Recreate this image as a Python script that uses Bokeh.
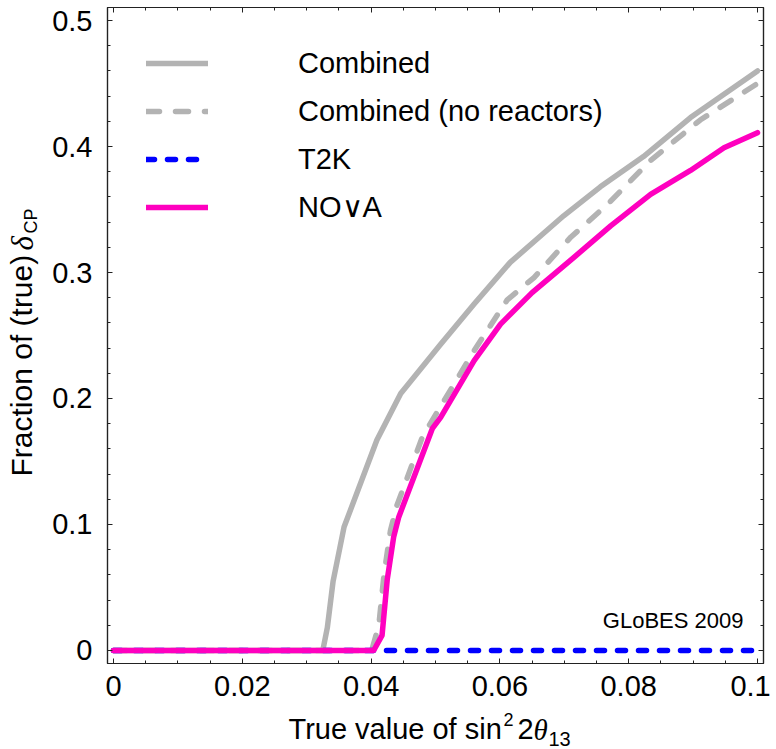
import numpy as np
from bokeh.plotting import figure
from bokeh.models import Range1d, LinearAxis, FixedTicker, Label, Legend, LegendItem
from bokeh.layouts import column, row
from bokeh.embed import file_html
from bokeh.resources import INLINE

# ---------------- data ----------------
combined_x = [0.0, 0.0325, 0.0332, 0.0341, 0.0358, 0.0409, 0.0446, 0.0508, 0.0560,
              0.0616, 0.0699, 0.0756, 0.0823, 0.0896, 0.1]
combined_y = [0.0, 0.0, 0.018, 0.055, 0.098, 0.167, 0.204, 0.243, 0.275,
              0.308, 0.345, 0.368, 0.392, 0.423, 0.460]

noreac_x = [0.0, 0.0401, 0.0412, 0.0420, 0.0430, 0.0440, 0.0480, 0.0513, 0.0560,
            0.0611, 0.0653, 0.0710, 0.0767, 0.0834, 0.0911, 0.1]
noreac_y = [0.0, 0.0, 0.020, 0.060, 0.095, 0.115, 0.170, 0.198, 0.238,
            0.278, 0.296, 0.328, 0.354, 0.389, 0.421, 0.450]

t2k_x = [0.0, 0.1]
t2k_y = [0.0, 0.0]

nova_x = [0.0, 0.0404, 0.0417, 0.0425, 0.0435, 0.0443, 0.0495, 0.0508, 0.0560,
          0.0601, 0.0650, 0.0715, 0.0772, 0.0834, 0.0896, 0.0948, 0.1]
nova_y = [0.0, 0.0, 0.012, 0.056, 0.090, 0.106, 0.176, 0.185, 0.230,
          0.259, 0.284, 0.312, 0.337, 0.362, 0.381, 0.399, 0.411]

series_names = ["Combined", "Combined (no reactors)", "T2K", "NO\u2228A"]

x_ticks = [0.0, 0.02, 0.04, 0.06, 0.08, 0.1]
x_tick_labels = ["0", "0.02", "0.04", "0.06", "0.08", "0.1\u2009"]
x_minor = [0.005, 0.01, 0.015, 0.025, 0.03, 0.035, 0.045, 0.05, 0.055,
           0.065, 0.07, 0.075, 0.085, 0.09, 0.095]
y_ticks = [0.0, 0.1, 0.2, 0.3, 0.4, 0.5]
y_tick_labels = ["0", "0.1", "0.2", "0.3", "0.4", "0.5"]
y_minor = [0.02, 0.04, 0.06, 0.08, 0.12, 0.14, 0.16, 0.18, 0.22, 0.24, 0.26, 0.28,
           0.32, 0.34, 0.36, 0.38, 0.42, 0.44, 0.46, 0.48]

# ---------------- styling ----------------
GRAY = "#b3b3b3"
BLUE = "#0000ff"
PINK = "#ff00bf"
FONT = "Liberation Sans"
SERIF = "Liberation Serif"
AXC = "#222222"
MID_SANS = 0.3465    # baseline -> middle of text box, in em (Liberation Sans)
MID_SERIF = 0.3375   # same for Liberation Serif

# page layout (pixels): left strip for y title | column(main plot, bottom strip for x title)
W_TOTAL, H_TOTAL = 776, 749
W_LEFT = 48
H_MAIN = 708
FRAME_L, FRAME_R, FRAME_T, FRAME_B = 107, 763, 7, 663
B_LEFT = FRAME_L - W_LEFT
B_RIGHT = W_TOTAL - FRAME_R

X0, X1 = -0.000932, 0.100932
Y0, Y1 = -0.01032, 0.51032

p = figure(width=W_TOTAL - W_LEFT, height=H_MAIN,
           x_range=Range1d(X0, X1), y_range=Range1d(Y0, Y1),
           output_backend="svg", toolbar_location=None,
           min_border_left=B_LEFT, min_border_right=B_RIGHT,
           min_border_top=FRAME_T, min_border_bottom=H_MAIN - FRAME_B)
p.xgrid.visible = False
p.ygrid.visible = False
p.outline_line_color = AXC
p.outline_line_width = 1.2
p.background_fill_color = "white"
p.border_fill_color = "white"


def style_axis(ax, ticks, minor, labels, show_labels, standoff):
    ax.ticker = FixedTicker(ticks=ticks, minor_ticks=minor)
    ax.major_tick_in = 5
    ax.major_tick_out = 0
    ax.minor_tick_in = 3
    ax.minor_tick_out = 0
    ax.major_tick_line_color = AXC
    ax.minor_tick_line_color = AXC
    ax.axis_line_color = AXC
    ax.axis_line_width = 1.2
    ax.axis_label = None
    if show_labels:
        ax.major_label_overrides = {t: l for t, l in zip(ticks, labels)}
        ax.major_label_text_font = FONT
        ax.major_label_text_font_size = "29px"
        ax.major_label_text_color = "black"
        ax.major_label_standoff = standoff
    else:
        ax.major_label_overrides = {t: "" for t in ticks}
        ax.major_label_text_font_size = "1px"
        ax.major_label_standoff = 0


style_axis(p.xaxis[0], x_ticks, x_minor, x_tick_labels, True, 6)
style_axis(p.yaxis[0], y_ticks, y_minor, y_tick_labels, True, 15)
top_ax = LinearAxis()
right_ax = LinearAxis()
style_axis(top_ax, x_ticks, x_minor, x_tick_labels, False, 0)
style_axis(right_ax, y_ticks, y_minor, y_tick_labels, False, 0)
p.add_layout(top_ax, "above")
p.add_layout(right_ax, "right")

# ---------------- curves ----------------
r1 = p.line(combined_x, combined_y, line_color=GRAY, line_width=5.5,
            line_cap="round", line_join="round")
r2 = p.line(noreac_x, noreac_y, line_color=GRAY, line_width=5.5,
            line_cap="round", line_join="round", line_dash="13 16")
r3 = p.line(t2k_x, t2k_y, line_color=BLUE, line_width=5.5,
            line_cap="round", line_join="round", line_dash="8 13")
r4 = p.line(nova_x, nova_y, line_color=PINK, line_width=5.5,
            line_cap="round", line_join="round")

legend = Legend(items=[LegendItem(label=series_names[0], renderers=[r1]),
                       LegendItem(label=series_names[1], renderers=[r2]),
                       LegendItem(label=series_names[2], renderers=[r3]),
                       LegendItem(label=series_names[3], renderers=[r4])],
                location="top_left", margin=39, padding=0, spacing=14,
                glyph_width=62, glyph_height=34, label_height=34, label_standoff=90,
                label_text_font=FONT, label_text_font_size="29px",
                label_text_color="black",
                background_fill_alpha=0, border_line_alpha=0)
p.add_layout(legend)


# watermark inside the frame (page pixel position -> data)
def xd(px):
    return X0 + (px - FRAME_L) * (X1 - X0) / (FRAME_R - FRAME_L)


def yd(py):
    return Y1 - (py - FRAME_T) * (Y1 - Y0) / (FRAME_B - FRAME_T)


p.add_layout(Label(x=xd(743), y=yd(628 - MID_SANS * 22), text="GLoBES 2009",
                   text_font=FONT, text_font_size="22px", text_align="right",
                   text_baseline="middle", text_color="black"))


# ---------------- title strips (ranges given in page pixels of their frames) ----------------
def strip(width, height, bl, br, bt, bb, fx0, fx1, fy0, fy1):
    f = figure(width=width, height=height,
               x_range=Range1d(fx0, fx1), y_range=Range1d(-fy1, -fy0),
               output_backend="svg", toolbar_location=None,
               x_axis_location=None, y_axis_location=None,
               min_border_left=bl, min_border_right=br,
               min_border_top=bt, min_border_bottom=bb)
    f.outline_line_color = None
    f.grid.visible = False
    f.background_fill_color = "white"
    f.border_fill_color = "white"
    return f


def put(f, px, py, txt, size, font=FONT, style="normal", vertical=False):
    """px, py: start of the text on its baseline, in page pixels."""
    mid = (MID_SERIF if font == SERIF else MID_SANS) * size
    if vertical:
        ax_, ay_, ang = px - mid, py, np.pi / 2
    else:
        ax_, ay_, ang = px, py - mid, 0.0
    f.add_layout(Label(x=ax_, y=-ay_, text=txt, text_font=font,
                       text_font_size="%gpx" % size, text_font_style=style,
                       text_align="left", text_baseline="middle", angle=ang,
                       text_color="black"))


# y-axis title strip: frame spans page x 0..48, page y 7..663
yfig = strip(W_LEFT, H_TOTAL, 0, 0, FRAME_T, H_TOTAL - FRAME_B, 0, W_LEFT, FRAME_T, FRAME_B)
put(yfig, 31.7, 476, "Fraction of (true)", 30, vertical=True)
put(yfig, 32.0, 250, "\u03b4", 31, font=SERIF, style="italic", vertical=True)
put(yfig, 36.7, 233, "CP", 18, vertical=True)

# x-axis title strip: frame spans page x 107..763, page y 708..749
xfig = strip(W_TOTAL - W_LEFT, H_TOTAL - H_MAIN, B_LEFT, B_RIGHT, 0, 0,
             FRAME_L, FRAME_R, H_MAIN, H_TOTAL)
put(xfig, 288, 739, "True value of sin", 29)
put(xfig, 503, 725.5, "2", 18)
put(xfig, 517, 739, "2", 29)
put(xfig, 533, 739, "\u03b8", 29, font=SERIF, style="italic")
put(xfig, 548, 745, "13", 20)

layout = row(yfig, column(p, xfig, spacing=0), spacing=0)

open("out.html", "w").write(file_html(layout, INLINE))
